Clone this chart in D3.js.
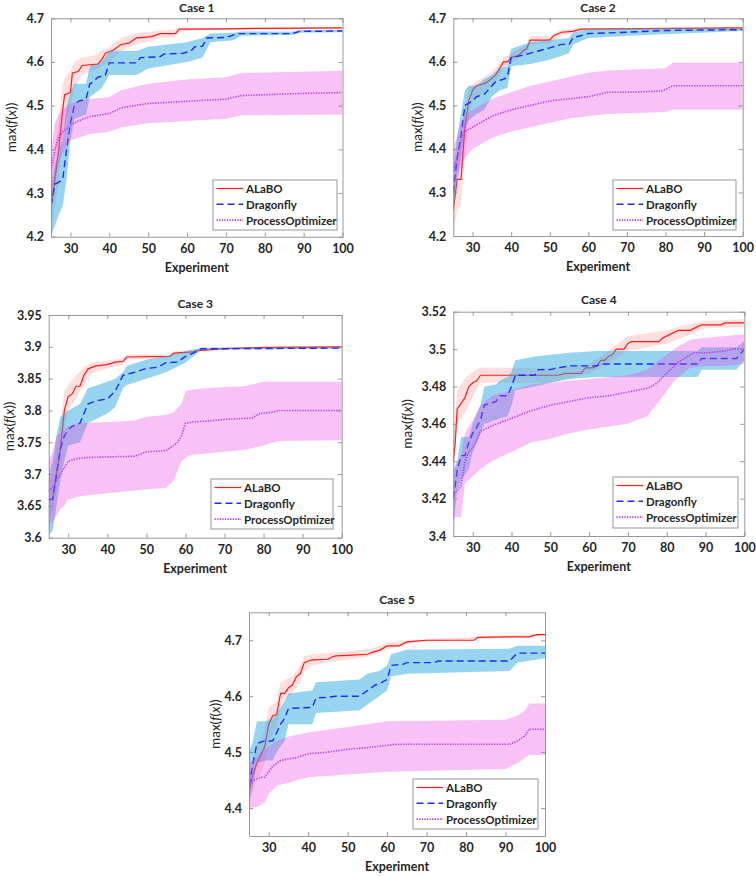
<!DOCTYPE html>
<html><head><meta charset="utf-8">
<script src="https://cdn.jsdelivr.net/npm/d3@7"></script>
<style>
body{margin:0;background:#fff;}
svg text{font-family:Lato,"Open Sans",sans-serif;fill:#262626;}
</style></head>
<body><svg id="c" width="756" height="876"></svg>
<script>
// ---------------- DATA ----------------
const seriesNames = ["ALaBO","Dragonfly","ProcessOptimizer"];
const caseTitles = ["Case 1","Case 2","Case 3","Case 4","Case 5"];
const xTicks = [30,40,50,60,70,80,90,100];
const yTicks1 = [4.2,4.3,4.4,4.5,4.6,4.7];
const yTicks2 = [4.2,4.3,4.4,4.5,4.6,4.7];
const yTicks3 = [3.6,3.65,3.7,3.75,3.8,3.85,3.9,3.95];
const yTicks4 = [3.4,3.42,3.44,3.46,3.48,3.5,3.52];
const yTicks5 = [4.4,4.5,4.6,4.7];

// Case 1
const c1_alabo = [[25,4.27],[26,4.33],[27,4.40],[28,4.49],[28.5,4.525],[30,4.53],[30.5,4.575],[32,4.578],[33,4.592],[37,4.595],[38,4.605],[39,4.62],[41,4.627],[43,4.64],[45,4.643],[47,4.655],[51,4.658],[53,4.665],[57,4.665],[58,4.675],[60,4.675],[70,4.676],[80,4.677],[100,4.678]];
const c1_alabo_band = [[25,4.22,4.32],[26,4.27,4.40],[27,4.33,4.47],[28,4.42,4.55],[29,4.47,4.57],[30,4.50,4.58],[31,4.54,4.60],[33,4.57,4.61],[36,4.58,4.615],[38,4.59,4.625],[40,4.60,4.635],[43,4.625,4.655],[47,4.64,4.665],[53,4.655,4.672],[57,4.658,4.674],[58,4.671,4.679],[70,4.674,4.678],[100,4.676,4.680]];
const c1_dragon = [[25,4.27],[26,4.32],[27,4.325],[28,4.33],[29,4.40],[30,4.46],[31,4.50],[32,4.51],[34,4.515],[35,4.55],[36,4.555],[37,4.565],[39,4.57],[40,4.598],[47,4.598],[48,4.61],[53,4.612],[54,4.618],[59,4.62],[61,4.625],[62,4.635],[64,4.636],[65,4.655],[70,4.656],[73,4.665],[87,4.665],[89,4.67],[100,4.671]];
const c1_dragon_band = [[25,4.20,4.32],[27,4.25,4.40],[28,4.27,4.42],[29,4.33,4.50],[30,4.42,4.53],[31,4.47,4.55],[34,4.48,4.55],[35,4.52,4.59],[38,4.54,4.60],[40,4.57,4.625],[47,4.57,4.625],[50,4.585,4.635],[60,4.60,4.645],[64,4.61,4.655],[66,4.645,4.665],[72,4.65,4.667],[74,4.66,4.67],[87,4.662,4.669],[89,4.667,4.673],[100,4.668,4.674]];
const c1_proc = [[25,4.35],[26,4.40],[27,4.43],[28,4.44],[30,4.455],[32,4.465],[35,4.475],[40,4.482],[43,4.495],[50,4.505],[60,4.51],[70,4.515],[74,4.523],[80,4.525],[90,4.528],[100,4.53]];
const c1_proc_band = [[25,4.30,4.40],[26,4.33,4.46],[27,4.37,4.48],[28,4.39,4.49],[30,4.42,4.505],[35,4.435,4.515],[40,4.44,4.52],[43,4.45,4.535],[50,4.46,4.55],[60,4.465,4.56],[70,4.47,4.565],[74,4.478,4.575],[100,4.48,4.58]];

// Case 2
const c2_alabo = [[25,4.26],[26,4.33],[27,4.33],[28,4.45],[29,4.51],[30,4.535],[31,4.545],[33,4.55],[34,4.555],[36,4.57],[37,4.585],[38,4.60],[39,4.60],[40,4.61],[42,4.615],[43,4.625],[44,4.63],[45,4.65],[50,4.65],[51,4.66],[53,4.668],[56,4.67],[58,4.675],[100,4.678]];
const c2_alabo_band = [[25,4.21,4.30],[26,4.26,4.38],[27,4.27,4.40],[28,4.38,4.50],[29,4.47,4.54],[30,4.51,4.55],[33,4.53,4.565],[36,4.555,4.585],[38,4.585,4.61],[40,4.60,4.62],[44,4.62,4.64],[45,4.64,4.66],[50,4.642,4.658],[53,4.66,4.674],[58,4.672,4.678],[100,4.676,4.68]];
const c2_dragon = [[25,4.30],[26,4.38],[27,4.43],[28,4.50],[29,4.505],[30,4.51],[31,4.52],[33,4.525],[34,4.535],[36,4.555],[38,4.56],[39,4.565],[40,4.61],[43,4.615],[45,4.62],[47,4.625],[50,4.632],[53,4.64],[55,4.64],[56,4.655],[58,4.66],[60,4.665],[70,4.668],[80,4.672],[100,4.674]];
const c2_dragon_band = [[25,4.25,4.35],[26,4.33,4.43],[27,4.38,4.48],[28,4.45,4.535],[29,4.465,4.545],[31,4.48,4.545],[33,4.49,4.56],[35,4.52,4.57],[37,4.535,4.585],[39,4.54,4.59],[40,4.59,4.63],[45,4.595,4.645],[50,4.605,4.65],[55,4.62,4.655],[56,4.64,4.668],[60,4.655,4.675],[70,4.66,4.677],[100,4.671,4.677]];
const c2_proc = [[25,4.35],[26,4.38],[27,4.42],[28,4.44],[30,4.45],[32,4.46],[35,4.475],[40,4.49],[45,4.50],[50,4.51],[55,4.515],[60,4.52],[65,4.53],[70,4.53],[79,4.533],[82,4.545],[100,4.545]];
const c2_proc_band = [[25,4.30,4.40],[27,4.36,4.46],[28,4.38,4.475],[30,4.40,4.49],[35,4.425,4.515],[40,4.44,4.53],[45,4.45,4.545],[50,4.46,4.555],[55,4.47,4.565],[60,4.475,4.575],[65,4.48,4.58],[80,4.485,4.585],[82,4.49,4.598],[100,4.49,4.598]];

// Case 3
const c3_alabo = [[25,3.66],[26,3.66],[27,3.70],[28,3.74],[29,3.80],[30,3.822],[31,3.826],[32,3.838],[33,3.838],[34,3.855],[35,3.865],[37,3.870],[40,3.872],[42,3.876],[44,3.877],[45,3.884],[56,3.885],[57,3.89],[62,3.892],[63,3.894],[70,3.897],[80,3.899],[100,3.90]];
const c3_alabo_band = [[25,3.63,3.69],[26,3.64,3.70],[27,3.67,3.74],[28,3.71,3.78],[29,3.77,3.83],[30,3.80,3.84],[32,3.82,3.855],[34,3.84,3.868],[36,3.858,3.875],[40,3.866,3.878],[44,3.872,3.882],[45,3.88,3.888],[56,3.882,3.888],[57,3.887,3.893],[63,3.891,3.896],[70,3.895,3.899],[100,3.899,3.901]];
const c3_dragon = [[25,3.66],[26,3.66],[27,3.70],[28,3.74],[29,3.76],[30,3.77],[31,3.775],[33,3.78],[35,3.81],[37,3.815],[40,3.818],[42,3.83],[44,3.855],[47,3.86],[50,3.866],[53,3.868],[55,3.875],[58,3.876],[60,3.885],[62,3.89],[64,3.897],[70,3.897],[100,3.898]];
const c3_dragon_band = [[25,3.605,3.70],[26,3.61,3.72],[27,3.65,3.76],[28,3.69,3.79],[29,3.72,3.795],[30,3.745,3.80],[33,3.75,3.81],[35,3.78,3.835],[40,3.795,3.845],[42,3.805,3.85],[44,3.835,3.86],[45,3.84,3.87],[50,3.85,3.88],[55,3.86,3.885],[60,3.875,3.893],[63,3.89,3.897],[64,3.895,3.899],[70,3.896,3.899],[100,3.897,3.899]];
const c3_proc = [[25,3.673],[26,3.68],[27,3.69],[28,3.70],[29,3.71],[30,3.72],[32,3.724],[35,3.726],[40,3.727],[47,3.728],[50,3.735],[55,3.737],[57,3.745],[58,3.75],[59,3.76],[60,3.78],[62,3.782],[65,3.783],[70,3.786],[77,3.788],[79,3.795],[82,3.797],[84,3.80],[100,3.80]];
const c3_proc_band = [[25,3.62,3.72],[26,3.625,3.735],[27,3.635,3.76],[28,3.645,3.765],[29,3.65,3.77],[30,3.66,3.775],[33,3.665,3.78],[40,3.67,3.782],[47,3.674,3.784],[50,3.676,3.79],[55,3.678,3.793],[57,3.69,3.797],[59,3.72,3.81],[60,3.725,3.83],[61,3.73,3.832],[65,3.732,3.835],[70,3.735,3.837],[75,3.738,3.838],[80,3.745,3.845],[84,3.752,3.845],[100,3.753,3.845]];

// Case 4
const c4_alabo = [[25,3.44],[25.5,3.45],[26,3.468],[27,3.471],[28,3.474],[29,3.48],[30,3.482],[31,3.483],[32,3.486],[52,3.486],[54,3.487],[58,3.487],[59,3.49],[61,3.49],[62,3.491],[63,3.494],[64,3.494],[65,3.496],[66,3.497],[67,3.50],[69,3.50],[70,3.503],[71,3.504],[78,3.504],[79,3.506],[80,3.507],[81,3.508],[82,3.509],[83,3.51],[86,3.51],[88,3.512],[89,3.513],[94,3.513],[95,3.514],[100,3.514]];
const c4_alabo_band = [[25,3.43,3.45],[26,3.46,3.478],[28,3.466,3.484],[30,3.474,3.488],[32,3.482,3.49],[50,3.482,3.49],[60,3.487,3.492],[65,3.492,3.499],[70,3.499,3.507],[80,3.503,3.51],[85,3.507,3.513],[90,3.511,3.515],[100,3.512,3.516]];
const c4_dragon = [[25,3.42],[26,3.435],[27,3.443],[28,3.443],[29,3.45],[30,3.455],[31,3.458],[32,3.462],[33,3.47],[36,3.472],[37,3.475],[39,3.475],[40,3.48],[41,3.486],[46,3.486],[47,3.489],[50,3.489],[52,3.49],[55,3.491],[62,3.491],[63,3.492],[88,3.492],[89,3.495],[98,3.495],[100,3.50]];
const c4_dragon_band = [[25,3.405,3.435],[26,3.425,3.44],[27,3.43,3.453],[29,3.436,3.453],[30,3.445,3.46],[32,3.455,3.47],[33,3.46,3.48],[36,3.462,3.481],[37,3.463,3.483],[39,3.464,3.485],[40,3.47,3.488],[41,3.478,3.494],[46,3.48,3.496],[50,3.482,3.497],[55,3.484,3.498],[62,3.485,3.499],[88,3.485,3.499],[89,3.489,3.501],[98,3.489,3.501],[100,3.494,3.504]];
const c4_proc = [[25,3.423],[26,3.424],[27,3.427],[28,3.44],[29,3.445],[30,3.447],[31,3.451],[32,3.456],[35,3.459],[40,3.463],[45,3.467],[50,3.47],[55,3.472],[60,3.474],[65,3.475],[70,3.477],[75,3.479],[77,3.481],[80,3.487],[83,3.493],[87,3.498],[90,3.498],[95,3.499],[97,3.50],[100,3.50]];
const c4_proc_band = [[25,3.41,3.435],[27,3.41,3.443],[28,3.428,3.455],[30,3.432,3.462],[32,3.436,3.47],[35,3.44,3.475],[40,3.445,3.478],[45,3.45,3.481],[50,3.452,3.482],[55,3.455,3.483],[60,3.457,3.484],[70,3.46,3.486],[75,3.464,3.489],[78,3.472,3.494],[82,3.483,3.50],[86,3.49,3.505],[90,3.491,3.506],[95,3.491,3.507],[100,3.492,3.508]];

// Case 5
const c5_alabo = [[25,4.43],[26,4.46],[27,4.48],[28,4.495],[29,4.51],[30,4.55],[31,4.565],[32,4.567],[33,4.605],[34,4.605],[35,4.615],[36,4.62],[37,4.635],[38,4.64],[39,4.66],[40,4.663],[41,4.665],[45,4.666],[46,4.67],[47,4.672],[50,4.673],[55,4.675],[56,4.678],[57,4.68],[58,4.682],[60,4.69],[63,4.69],[65,4.697],[70,4.70],[82,4.70],[83,4.705],[90,4.706],[96,4.706],[98,4.71],[100,4.71]];
const c5_alabo_band = [[25,4.41,4.45],[27,4.45,4.51],[29,4.48,4.54],[30,4.52,4.58],[32,4.545,4.59],[33,4.585,4.625],[36,4.605,4.635],[38,4.625,4.655],[39,4.645,4.672],[41,4.655,4.675],[46,4.662,4.678],[50,4.665,4.68],[56,4.672,4.685],[60,4.684,4.695],[65,4.693,4.70],[70,4.698,4.702],[100,4.708,4.712]];
const c5_dragon = [[25,4.44],[26,4.48],[27,4.515],[28,4.518],[29,4.52],[31,4.52],[32,4.535],[33,4.55],[34,4.56],[35,4.578],[41,4.58],[42,4.597],[45,4.598],[47,4.60],[53,4.60],[55,4.61],[57,4.62],[58,4.622],[60,4.63],[61,4.655],[64,4.657],[65,4.66],[72,4.66],[73,4.663],[91,4.663],[92,4.67],[93,4.677],[100,4.677]];
const c5_dragon_band = [[25,4.41,4.50],[26,4.44,4.52],[27,4.48,4.555],[29,4.485,4.555],[31,4.485,4.56],[32,4.50,4.57],[33,4.51,4.58],[34,4.52,4.59],[35,4.55,4.605],[41,4.55,4.61],[42,4.57,4.625],[47,4.572,4.627],[53,4.575,4.63],[55,4.585,4.64],[58,4.60,4.645],[60,4.61,4.655],[61,4.635,4.675],[65,4.64,4.683],[91,4.645,4.685],[93,4.66,4.69],[100,4.668,4.69]];
const c5_proc = [[25,4.44],[26,4.45],[27,4.452],[28,4.455],[29,4.455],[30,4.465],[31,4.475],[33,4.485],[35,4.488],[37,4.49],[40,4.497],[45,4.50],[50,4.505],[55,4.508],[60,4.512],[62,4.514],[91,4.514],[93,4.52],[95,4.53],[96,4.541],[100,4.541]];
const c5_proc_band = [[25,4.40,4.48],[27,4.402,4.49],[28,4.405,4.50],[29,4.41,4.505],[30,4.425,4.51],[32,4.44,4.52],[35,4.445,4.528],[40,4.455,4.535],[50,4.46,4.545],[60,4.465,4.555],[90,4.47,4.558],[93,4.48,4.565],[95,4.49,4.575],[96,4.495,4.587],[100,4.495,4.587]];

// ---------------- LAYOUT / STYLE ----------------
const panels = [
  {title:caseTitles[0], L:51, R:342.5, T:18.3, B:236.7, yd:[4.2,4.7], yt:yTicks1, ylx:13, ty:12, lg:[213,180,124,50],
   data:[[c1_alabo,c1_alabo_band],[c1_dragon,c1_dragon_band],[c1_proc,c1_proc_band]]},
  {title:caseTitles[1], L:453.3, R:742.7, T:18.3, B:236, yd:[4.2,4.7], yt:yTicks2, ylx:419, ty:12, lg:[613,180,123,50],
   data:[[c2_alabo,c2_alabo_band],[c2_dragon,c2_dragon_band],[c2_proc,c2_proc_band]]},
  {title:caseTitles[2], L:48.7, R:341.7, T:315, B:537.7, yd:[3.6,3.95], yt:yTicks3, ylx:11, ty:308, lg:[211,479,122,50],
   data:[[c3_alabo,c3_alabo_band],[c3_dragon,c3_dragon_band],[c3_proc,c3_proc_band]]},
  {title:caseTitles[3], L:453.3, R:744.3, T:311.7, B:536, yd:[3.4,3.52], yt:yTicks4, ylx:409, ty:304, lg:[613,477,125,51],
   data:[[c4_alabo,c4_alabo_band],[c4_dragon,c4_dragon_band],[c4_proc,c4_proc_band]]},
  {title:caseTitles[4], L:249, R:545, T:612.3, B:836, yd:[4.35,4.75], yt:yTicks5, ylx:217, ty:604, lg:[413,779,125,50],
   data:[[c5_alabo,c5_alabo_band],[c5_dragon,c5_dragon_band],[c5_proc,c5_proc_band]]}
];
const styles = [
  {stroke:"#ff1a1a", dash:null, w:1.2, fill:"rgb(255,90,90)", op:0.2},
  {stroke:"#1a2cff", dash:"7,4", w:1.4, fill:"rgb(45,170,225)", op:0.5},
  {stroke:"#b53cf5", dash:"1.3,1.3", w:1.6, fill:"rgb(238,70,228)", op:0.33}
];

const svg = d3.select("#c");
const fmt = d => String(+d.toFixed(3));

panels.forEach((p,pi) => {
  const x = d3.scaleLinear().domain([25,100]).range([p.L,p.R]);
  const y = d3.scaleLinear().domain(p.yd).range([p.B,p.T]);
  const g = svg.append("g");
  const clipId = "clip"+pi;
  svg.append("clipPath").attr("id",clipId).append("rect")
    .attr("x",p.L).attr("y",p.T).attr("width",p.R-p.L).attr("height",p.B-p.T);
  const plot = g.append("g").attr("clip-path",`url(#${clipId})`);

  p.data.forEach((sd,si) => {
    const st = styles[si];
    const area = d3.area().x(d=>x(d[0])).y0(d=>y(d[1])).y1(d=>y(d[2]));
    plot.append("path").datum(sd[1]).attr("d",area)
      .attr("fill",st.fill).attr("fill-opacity",st.op).attr("stroke","none");
    const line = d3.line().x(d=>x(d[0])).y(d=>y(d[1]));
    plot.append("path").datum(sd[0]).attr("d",line)
      .attr("fill","none").attr("stroke",st.stroke).attr("stroke-width",st.w)
      .attr("stroke-dasharray",st.dash);
  });

  // axes (box with inward ticks)
  const ax = g.append("g");
  const bottom = d3.axisBottom(x).tickValues(xTicks).tickSizeInner(-4).tickSizeOuter(0).tickPadding(7).tickFormat(d3.format("d"));
  const left = d3.axisLeft(y).tickValues(p.yt).tickSizeInner(-4).tickSizeOuter(0).tickPadding(7).tickFormat(fmt);
  const top = d3.axisTop(x).tickValues(xTicks).tickSizeInner(-4).tickSizeOuter(0).tickFormat("");
  const right = d3.axisRight(y).tickValues(p.yt).tickSizeInner(-4).tickSizeOuter(0).tickFormat("");
  [[bottom,`translate(0,${p.B})`],[left,`translate(${p.L},0)`],[top,`translate(0,${p.T})`],[right,`translate(${p.R},0)`]].forEach(([a,t])=>{
    const s = ax.append("g").attr("transform",t).call(a);
    s.select(".domain").attr("stroke","#8c8c8c").attr("stroke-width",0.9);
    s.selectAll(".tick line").attr("stroke","#8c8c8c").attr("stroke-width",0.9);
    s.selectAll(".tick text").attr("font-size",12.5).attr("font-weight","bold").attr("fill","#262626")
      .style("font-family","Lato, 'Open Sans', sans-serif");
  });

  // title
  g.append("text").attr("x",(p.L+p.R)/2).attr("y",p.ty).attr("text-anchor","middle")
    .attr("font-size",12).attr("font-weight","bold").text(p.title);
  // x label
  g.append("text").attr("x",(p.L+p.R)/2).attr("y",p.B+35).attr("text-anchor","middle")
    .attr("font-size",12.5).attr("font-weight","bold").text("Experiment");
  // y label
  const yl = g.append("text").attr("transform",`translate(${p.ylx},${(p.T+p.B)/2}) rotate(-90)`)
    .attr("text-anchor","middle").attr("dominant-baseline","middle").attr("font-size",13.5);
  yl.append("tspan").text("max(");
  yl.append("tspan").attr("font-style","italic").text("f");
  yl.append("tspan").text("(");
  yl.append("tspan").attr("font-style","italic").text("x");
  yl.append("tspan").text("))");

  // legend
  const [lx,ly,lw,lh] = p.lg;
  const lg = g.append("g");
  lg.append("rect").attr("x",lx).attr("y",ly).attr("width",lw).attr("height",lh)
    .attr("fill","#fff").attr("stroke","#8c8c8c").attr("stroke-width",0.9);
  seriesNames.forEach((n,i)=>{
    const st = styles[i];
    const ry = ly + 8.5 + i*15.8;
    lg.append("line").attr("x1",lx+3.5).attr("x2",lx+30).attr("y1",ry).attr("y2",ry)
      .attr("stroke",st.stroke).attr("stroke-width",st.w).attr("stroke-dasharray",st.dash);
    lg.append("text").attr("x",lx+33).attr("y",ry).attr("dominant-baseline","central")
      .attr("font-size",11.5).attr("font-weight","bold").text(n);
  });
});
</script></body></html>
